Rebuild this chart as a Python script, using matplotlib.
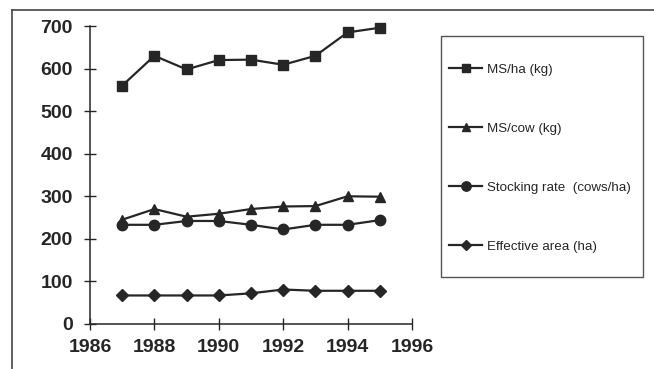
import matplotlib.pyplot as plt
from matplotlib.lines import Line2D
from matplotlib.patches import Rectangle

# values
years = [1987, 1988, 1989, 1990, 1991, 1992, 1993, 1994, 1995]
ms_per_ha = [560, 630, 598, 620, 621, 609, 630, 685, 696]
ms_per_cow = [245, 270, 252, 259, 270, 276, 277, 300, 299]
stocking_rate = [233, 233, 242, 242, 233, 222, 233, 233, 244]
effective_area = [67, 67, 67, 67, 72, 81, 78, 78, 78]

series_labels = ['MS/ha (kg)', 'MS/cow (kg)', 'Stocking rate  (cows/ha)', 'Effective area (ha)']
series_markers = ['s', '^', 'o', 'D']
x_ticks = [1986, 1988, 1990, 1992, 1994, 1996]
y_ticks = [0, 100, 200, 300, 400, 500, 600, 700]

ink = '#262626'

def main():
    fig = plt.figure(figsize=(6.54, 3.69), dpi=100)
    ax = fig.add_axes([0.1376, 0.122, 0.4924, 0.8075])

    data = [ms_per_ha, ms_per_cow, stocking_rate, effective_area]
    sizes = [7, 7, 7.5, 6]
    for vals, lab, mk, ms in zip(data, series_labels, series_markers, sizes):
        ax.plot(years, vals, marker=mk, markersize=ms, color=ink, lw=1.6,
                label=lab, clip_on=False)

    ax.set_xlim(1986, 1996)
    ax.set_ylim(0, 700)
    ax.set_xticks(x_ticks)
    ax.set_yticks(y_ticks)
    for s in ['top', 'right']:
        ax.spines[s].set_visible(False)
    for s in ['left', 'bottom']:
        ax.spines[s].set_color(ink)
        ax.spines[s].set_linewidth(1.1)
    ax.tick_params(direction='inout', length=9, width=1.0, color=ink, pad=6)
    ax.tick_params(axis='y', pad=8)
    for t in ax.get_xticklabels() + ax.get_yticklabels():
        t.set_fontfamily('Liberation Sans')
        t.set_fontweight('bold')
        t.set_fontsize(14)
        t.set_color(ink)

    # legend box drawn separately so the entries can sit with small side padding
    fig.add_artist(Rectangle((441 / 654, 92 / 369), 202 / 654, 241 / 369,
                             transform=fig.transFigure, fill=False,
                             edgecolor='#555555', lw=1.0))
    leg = fig.legend(loc='center left', bbox_to_anchor=(449 / 654, 211 / 369),
                     frameon=False, prop={'family': 'Liberation Sans', 'size': 9.6},
                     labelspacing=3.5, borderpad=0, handlelength=2.5,
                     handletextpad=0.35, borderaxespad=0, markerscale=0.9)
    for t in leg.get_texts():
        t.set_color(ink)

    # outer frame of the original figure
    fig.add_artist(Line2D([12 / 654, 12 / 654], [0, 359 / 369], color='#444444', lw=1.2))
    fig.add_artist(Line2D([12 / 654, 1], [359 / 369, 359 / 369], color='#444444', lw=1.2))

    fig.savefig('out.png', dpi=100)

if __name__ == "__main__":
    main()
